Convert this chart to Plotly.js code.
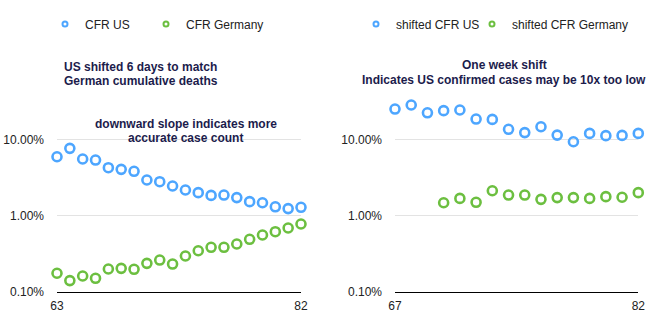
<!DOCTYPE html>
<html>
<head>
<meta charset="utf-8">
<script src="https://cdn.plot.ly/plotly-3.0.1.min.js"></script>
<style>html,body{margin:0;padding:0;background:#fff;}#chart{width:658px;height:326px;}</style>
</head>
<body>
<div id="chart"></div>
<script>
// Left panel: days 63..82
const daysLeft = [63,64,65,66,67,68,69,70,71,72,73,74,75,76,77,78,79,80,81,82];
const cfrUS = [5.97,7.7,5.57,5.4,4.28,4.07,3.84,2.95,2.8,2.46,2.18,2.01,1.85,1.87,1.73,1.53,1.48,1.31,1.24,1.29];
const cfrGermany = [0.175,0.140,0.161,0.150,0.199,0.203,0.197,0.236,0.261,0.231,0.295,0.346,0.384,0.384,0.424,0.489,0.557,0.616,0.689,0.778];
// Right panel: days 67..82
const daysRight = [67,68,69,70,71,72,73,74,75,76,77,78,79,80,81,82];
const shiftedUS = [25.3,28.6,22.6,24.1,24.6,18.7,18.5,13.7,12.4,14.8,11.5,9.4,12.1,11.3,11.4,12.1];
const daysRightDE = [70,71,72,73,74,75,76,77,78,79,80,81,82];
const shiftedGermany = [1.48,1.69,1.50,2.13,1.87,1.87,1.64,1.73,1.73,1.69,1.78,1.75,2.01];
const yTickVals = [0.001, 0.01, 0.1];
const seriesNames = ['CFR US','CFR Germany','shifted CFR US','shifted CFR Germany'];

const pct = a => a.map(v => v / 100);
const BLUE = '#4da6ff', GREEN = '#6cbf40';
const FONT = 'Liberation Sans, Arial, Helvetica, sans-serif';

function mk(color){ return {symbol:'circle-open', size:9, color:color, line:{width:2.6, color:color}}; }
function mkSmall(color){ return {symbol:'circle-open', size:5, color:color, line:{width:2, color:color}}; }

const plotTraces = [
  {x: daysLeft, y: pct(cfrUS), color: BLUE, xa:'x', ya:'y'},
  {x: daysLeft, y: pct(cfrGermany), color: GREEN, xa:'x', ya:'y'},
  {x: daysRight, y: pct(shiftedUS), color: BLUE, xa:'x2', ya:'y2'},
  {x: daysRightDE, y: pct(shiftedGermany), color: GREEN, xa:'x2', ya:'y2'}
];
const legendIds = ['legend','legend2','legend3','legend4'];
const traces = [];
plotTraces.forEach((t, i) => {
  traces.push({x:t.x, y:t.y, name:seriesNames[i], mode:'markers', marker:mk(t.color),
    xaxis:t.xa, yaxis:t.ya, showlegend:false, cliponaxis:false});
});
plotTraces.forEach((t, i) => {
  traces.push({x:[null], y:[null], name:seriesNames[i], mode:'markers', marker:mkSmall(t.color),
    xaxis:t.xa, yaxis:t.ya, showlegend:true, legend:legendIds[i]});
});

const W = 658, H = 326;
const yDom = [(H-291.7)/H, (H-63.7)/H];
function yax(anchor){
  return {type:'log', range:[-3,0], domain:yDom, anchor:anchor, tickvals:yTickVals, tickformat:'.2%',
    showgrid:true, gridcolor:'#e3e3e3', gridwidth:1, zeroline:false, showline:false, ticks:'',
    ticklabelstandoff:12, tickfont:{size:12, color:'#222', family:FONT}};
}
function xax(dom, r, anchor, tv){
  return {domain:dom, range:r, anchor:anchor, tickvals:tv, showgrid:false, zeroline:false,
    showline:true, linecolor:'#000', linewidth:1.5, ticks:'', ticklabelstandoff:2,
    tickfont:{size:12, color:'#222', family:FONT}};
}
const navy = '#1c1c4c';
function ann(text, xpx, ypx, xanchor){
  return {text:'<b>'+text+'</b>', xref:'paper', yref:'paper', x:xpx/W, y:1-ypx/H,
    xanchor:xanchor, yanchor:'middle', showarrow:false, font:{size:12, color:navy, family:FONT}};
}
function leg(xpx){
  return {orientation:'h', x:xpx/W, y:1-24/H, xanchor:'left', yanchor:'middle',
    font:{size:12, family:FONT, color:'#222'}, bgcolor:'rgba(0,0,0,0)'};
}

const layout = {
  width:W, height:H, margin:{l:0,r:0,t:0,b:0}, paper_bgcolor:'#fff', plot_bgcolor:'#fff',
  font:{family:FONT, size:12, color:'#222'},
  xaxis: xax([57/W, 301/W], [63,82], 'y', [63,82]),
  yaxis: yax('x'),
  xaxis2: xax([395/W, 638.3/W], [67,82], 'y2', [67,82]),
  yaxis2: yax('x2'),
  showlegend:true,
  legend: leg(45),
  legend2: leg(146),
  legend3: leg(356),
  legend4: leg(472),
  annotations:[
    ann('US shifted 6 days to match', 62, 67, 'left'),
    ann('German cumulative deaths', 62, 80.7, 'left'),
    ann('downward slope indicates more', 185.5, 124, 'center'),
    ann('accurate case count', 185.5, 137.7, 'center'),
    ann('One week shift', 504, 65.3, 'center'),
    ann('Indicates US confirmed cases may be 10x too low', 504, 80, 'center')
  ]
};

Plotly.newPlot('chart', traces, layout, {displayModeBar:false, staticPlot:true});
</script>
</body>
</html>
